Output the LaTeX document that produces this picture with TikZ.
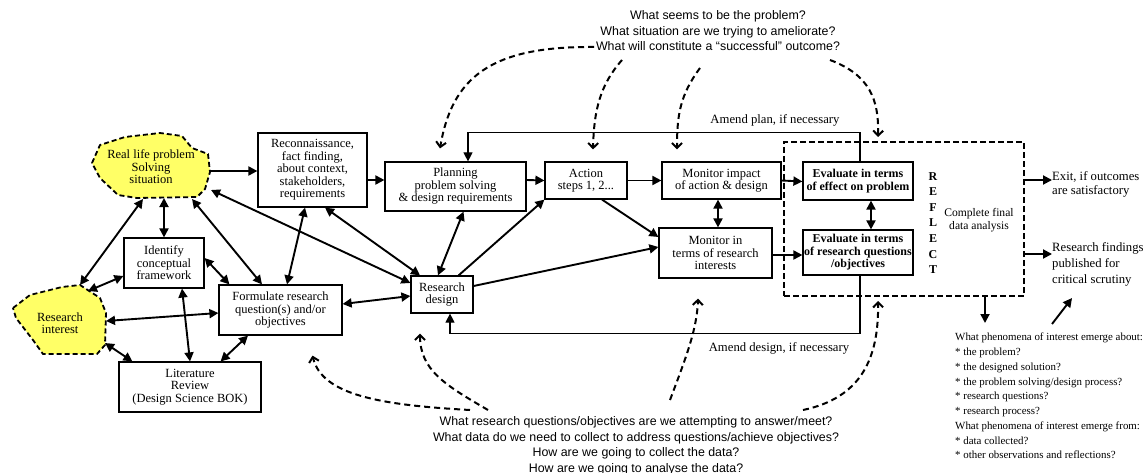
\documentclass[tikz,border=0pt]{standalone}
\usepackage{fontspec}
\setmainfont{Liberation Serif}
\newfontfamily\qfont{Liberation Sans}
\usetikzlibrary{arrows.meta}
\definecolor{blobyellow}{RGB}{255,255,102}

\begin{document}
\begin{tikzpicture}[x=1pt,y=-1pt,
    procbox/.style={draw,line width=1.2pt,align=center,inner sep=1pt,font=\fontsize{12.5}{12.5}\selectfont},
    evalbox/.style={procbox,font=\fontsize{12}{12.5}\selectfont\bfseries},
    blob/.style={draw,fill=blobyellow,line width=1.8pt,dash pattern=on 5pt off 3pt,line join=round},
    blobtext/.style={align=center,inner sep=0pt,font=\fontsize{12.5}{12.5}\selectfont},
    twoway/.style={line width=1.9pt,arrows={Triangle[length=9pt,width=9pt]-Triangle[length=9pt,width=9pt]}},
    oneway/.style={line width=1.9pt,arrows={-Triangle[length=9pt,width=9pt]}},
    loopline/.style={line width=1.2pt,arrows={-Triangle[length=9pt,width=9pt]}},
    query/.style={line width=2pt,dash pattern=on 6pt off 4pt,arrows={-Straight Barb[length=5pt,width=10pt]}},
    qtext/.style={align=center,inner sep=0pt,font=\qfont\fontsize{12.4}{15.5}\selectfont},
    note/.style={align=left,inner sep=0pt,font=\fontsize{12.7}{14}\selectfont}]
    \useasboundingbox (0,0) rectangle (1147,473);

    % Yellow starting blobs
    \draw[blob] (92,163) -- (100,145) -- (125,137) -- (160,133) -- (182,136) -- (192,148) -- (208,154)
        -- (210,172) -- (205,189) -- (197,197) -- (137,198) -- (118,195) -- (100,178) -- cycle;
    \draw[blob] (13,308) -- (30,295) -- (62,287) -- (80,285) -- (100,298) -- (106,313) -- (105,345)
        -- (97,354) -- (43,354) -- (33,340) -- (16,318) -- cycle;
    \node[blobtext] (reallife) at (151,167) {Real life problem\\Solving\\situation};
    \node[blobtext] (resint) at (60,323) {Research\\interest};
    \coordinate (rl-e) at (210,171);
    \coordinate (rl-s) at (164,198);
    \coordinate (rl-sw) at (143,199);
    \coordinate (rl-se) at (192,199);
    \coordinate (rl-ee) at (211,190);
    \coordinate (ri-n) at (80,285);
    \coordinate (ri-e1) at (88,291);
    \coordinate (ri-e2) at (106,321);
    \coordinate (ri-se) at (105,343);

    % Process boxes
    \node[procbox,minimum width=109pt,minimum height=74pt] (recon) at (312.5,170)
        {Reconnaissance,\\fact finding,\\about context,\\stakeholders,\\requirements};
    \node[procbox,minimum width=141pt,minimum height=49pt] (plan) at (455.5,186.5)
        {Planning\\problem solving\\\& design requirements};
    \node[procbox,minimum width=80pt,minimum height=50pt] (identify) at (164,263)
        {Identify\\conceptual\\framework};
    \node[procbox,minimum width=123pt,minimum height=50pt] (formulate) at (280.5,310)
        {Formulate research\\question(s) and/or\\objectives};
    \node[procbox,minimum width=142pt,minimum height=50pt] (litrev) at (190,387)
        {Literature\\Review\\(Design Science BOK)};
    \node[procbox,minimum width=62pt,minimum height=37pt] (design) at (442,294.5) {Research\\design};
    \node[procbox,minimum width=82pt,minimum height=37pt] (action) at (586,180.5) {Action\\steps 1, 2...};
    \node[procbox,minimum width=119pt,minimum height=37pt] (monimp) at (721.5,180.5)
        {Monitor impact\\of action \& design};
    \node[procbox,minimum width=113pt,minimum height=50pt] (monres) at (715.5,253)
        {Monitor in\\terms of research\\interests};

    % Reflect stage
    \node[draw,line width=2pt,dash pattern=on 6pt off 3pt,minimum width=240pt,minimum height=154pt] (reflect) at (904,219) {};
    \node[evalbox,minimum width=110pt,minimum height=38pt] (evaleff) at (858,181)
        {Evaluate in terms\\of effect on problem};
    \node[evalbox,minimum width=110pt,minimum height=45pt] (evalrq) at (858,252.5)
        {Evaluate in terms\\of research questions\\/objectives};
    \node[align=center,inner sep=0pt,font=\fontsize{12}{15.6}\selectfont\bfseries] (reflectword) at (933,223)
        {R\\E\\F\\L\\E\\C\\T};
    \node[align=center,inner sep=0pt,font=\fontsize{11.6}{12.5}\selectfont] (final) at (979,220)
        {Complete final\\data analysis};

    % Outcomes
    \node[note,anchor=west] (exit) at (1052,184) {Exit, if outcomes\\are satisfactory};
    \node[note,anchor=west,font=\fontsize{12.7}{16}\selectfont] (findings) at (1052,264)
        {Research findings\\published for\\critical scrutiny};
    \node[note,anchor=west,font=\fontsize{10.9}{14.75}\selectfont] (phenom) at (955,396)
        {What phenomena of interest emerge about:\\* the problem?\\* the designed solution?\\
         * the problem solving/design process?\\* research questions?\\* research process?\\
         What phenomena of interest emerge from:\\* data collected?\\* other observations and reflections?};
    \coordinate (phentop) at (985,323);
    \coordinate (phenright) at (1052,324);

    % Guiding questions
    \node[qtext] (topq) at (718,31) {What seems to be the problem?\\What situation are we trying to ameliorate?\\
        What will constitute a “successful” outcome?};
    \node[qtext] (botq) at (636,446) {What research questions/objectives are we attempting to answer/meet?\\
        What data do we need to collect to address questions/achieve objectives?\\
        How are we going to collect the data?\\How are we going to analyse the data?};
    \coordinate (tq1) at (594,47);
    \coordinate (tq2) at (622,60);
    \coordinate (tq3) at (700,68);
    \coordinate (tq4) at (830,60);
    \coordinate (bq1) at (470,410);
    \coordinate (bq2) at (488,410);
    \coordinate (bq3) at (670,400);
    \coordinate (bq4) at (803,410);

    % Links from the blobs
    \draw[oneway] (rl-e) -- (rl-e -| recon.west);
    \draw[twoway] (rl-s) -- (identify.north);
    \draw[twoway] (rl-sw) -- (ri-n);
    \draw[twoway] (rl-se) -- ([xshift=-18.5pt]formulate.north);
    \draw[twoway] (rl-ee) -- ([yshift=11.5pt]design.west);
    \draw[twoway] (ri-e1) -- ([yshift=-13pt]identify.west);
    \draw[twoway] (ri-e2) -- ([yshift=-3pt]formulate.west);
    \draw[twoway] (ri-se) -- ([xshift=14pt]litrev.north west);

    % Links between boxes
    \draw[twoway] ([xshift=12.5pt]recon.south) -- ([xshift=-22pt]design.north);
    \draw[twoway] ([xshift=-7.5pt]recon.south) -- ([xshift=6.5pt]formulate.north);
    \draw[twoway] ([yshift=5pt]identify.east) -- ([xshift=11pt]formulate.north west);
    \draw[twoway] ([xshift=18pt]identify.south) -- (litrev.north);
    \draw[twoway] ([xshift=-32.5pt]formulate.south) -- ([xshift=-41pt]litrev.north east);
    \draw[twoway] ([yshift=6pt]formulate.east) -- ([yshift=-1.5pt]design.west);
    \draw[oneway] ([yshift=-10pt]recon.east) -- ([yshift=6.5pt]plan.west);
    \draw[twoway] ([xshift=-4pt]design.north) -- ([xshift=8pt]plan.south);
    \draw[oneway] ([xshift=-15pt]design.north east) -- (action.south west);
    \draw[oneway] ([yshift=8.5pt]design.east) -- ([yshift=6pt]monres.west);
    \draw[oneway] ([yshift=6.5pt]plan.east) -- (action.west);
    \draw[oneway] (action.east) -- (monimp.west);
    \draw[oneway] ([xshift=16pt]action.south) -- ([yshift=16pt]monres.west);
    \draw[twoway] ([xshift=-3.5pt]monimp.south) -- ([xshift=2.5pt]monres.north);
    \draw[oneway] (monimp.east) -- ([yshift=-0.5pt]evaleff.west);
    \draw[oneway] ([yshift=-2pt]monres.east) -- ([yshift=-2.5pt]evalrq.west);
    \draw[twoway] ([xshift=13pt]evaleff.south) -- ([xshift=13pt]evalrq.north);

    % Amend loops
    \draw[loopline] ([xshift=2pt]evaleff.north) -- ++(0,-29) -| ([xshift=12.5pt]plan.north);
    \draw[loopline] ([xshift=2pt]evalrq.south) -- ++(0,58) -| ([xshift=8pt]design.south);
    \node[note] (amendplan) at (775,120) {Amend plan, if necessary};
    \node[note] (amenddesign) at (779,348) {Amend design, if necessary};

    % Leaving the reflect stage
    \draw[oneway] ([yshift=39pt]reflect.east) -- ([yshift=4pt]exit.west);
    \draw[oneway] ([yshift=-35pt]reflect.east) -- ([yshift=10pt]findings.west);
    \draw[oneway] ([xshift=81pt]reflect.south) -- (phentop);
    \draw[oneway] (phenright) -- ([xshift=20pt,yshift=-12pt]findings.south west);

    % Dashed question links, top
    \draw[query] (tq1) .. controls (490,46) and (452,78) .. ([xshift=-15.5pt,yshift=13pt]plan.north);
    \draw[query] (tq2) .. controls (600,85) and (594,110) .. ([xshift=7pt,yshift=12pt]action.north);
    \draw[query] (tq3) .. controls (680,95) and (677,115) .. ([xshift=-44.5pt,yshift=12pt]monimp.north);
    \draw[query] (tq4) .. controls (870,75) and (879,100) .. ([xshift=-26pt,yshift=4pt]reflect.north);

    % Dashed question links, bottom
    \draw[query] (bq1) .. controls (380,405) and (322,395) .. ([xshift=32pt,yshift=-20pt]formulate.south);
    \draw[query] (bq2) .. controls (445,385) and (420,370) .. ([xshift=-22pt,yshift=-20pt]design.south);
    \draw[query] (bq3) .. controls (685,360) and (697,330) .. ([xshift=-17.5pt,yshift=-20pt]monres.south);
    \draw[query] (bq4) .. controls (860,398) and (879,360) .. ([xshift=-26pt,yshift=-4pt]reflect.south);
\end{tikzpicture}
\end{document}
